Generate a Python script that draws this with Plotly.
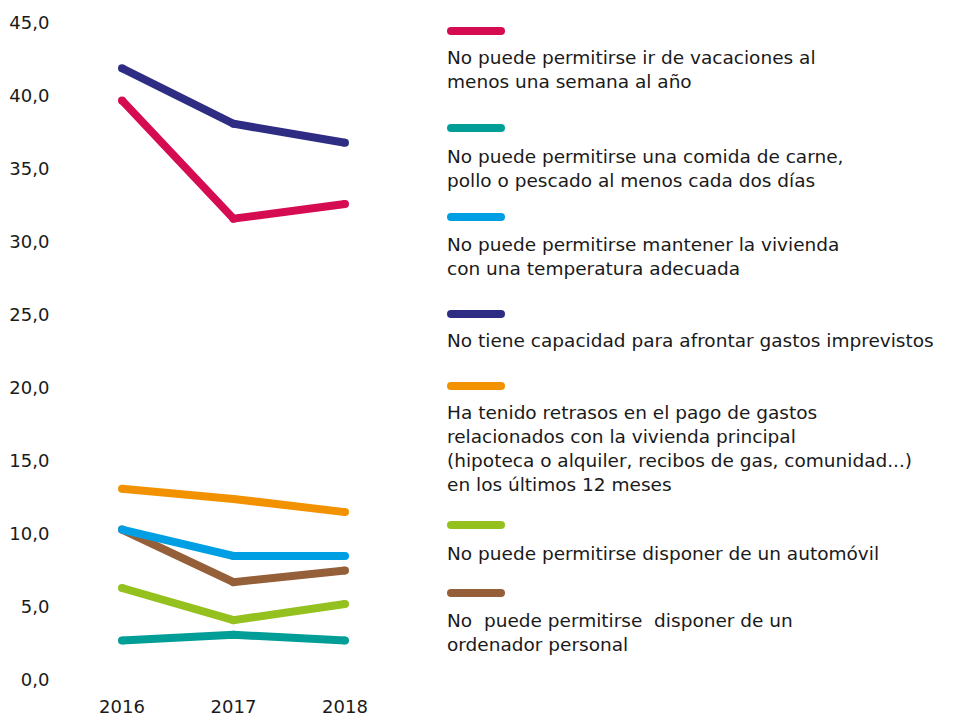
import plotly.graph_objects as go

W, H = 955, 718

years = [2016, 2017, 2018]
year_labels = ["2016", "2017", "2018"]

series_names = [
    "No puede permitirse ir de vacaciones al<br>menos una semana al año",
    "No puede permitirse una comida de carne,<br>pollo o pescado al menos cada dos días",
    "No puede permitirse mantener la vivienda<br>con una temperatura adecuada",
    "No tiene capacidad para afrontar gastos imprevistos",
    "Ha tenido retrasos en el pago de gastos<br>relacionados con la vivienda principal<br>(hipoteca o alquiler, recibos de gas, comunidad...)<br>en los últimos 12 meses",
    "No puede permitirse disponer de un automóvil",
    "No  puede permitirse  disponer de un<br>ordenador personal",
]

vacaciones = [39.7, 31.6, 32.6]
carne = [2.7, 3.1, 2.7]
temperatura = [10.3, 8.5, 8.5]
imprevistos = [41.9, 38.1, 36.8]
retrasos = [13.1, 12.4, 11.5]
automovil = [6.3, 4.1, 5.2]
ordenador = [10.3, 6.7, 7.5]

series_values = [vacaciones, carne, temperatura, imprevistos, retrasos, automovil, ordenador]
colors = ["#D50C52", "#009E96", "#009FE3", "#2E2D83", "#F39200", "#95C11F", "#955F3A"]

y_ticks = [0, 5, 10, 15, 20, 25, 30, 35, 40, 45]
y_tick_labels = ["0,0", "5,0", "10,0", "15,0", "20,0", "25,0", "30,0", "35,0", "40,0", "45,0"]

FONT = "DejaVu Sans"
TXT = "#1a1a1a"

fig = go.Figure()
draw_order = [0, 3, 1, 5, 6, 2, 4]
for i in draw_order:
    fig.add_trace(go.Scatter(
        x=years, y=series_values[i], mode="lines+markers",
        line=dict(color=colors[i], width=8),
        marker=dict(color=colors[i], size=8, line=dict(width=0)),
        showlegend=False, hoverinfo="skip",
    ))

px_left, px_right = 60, 400
py_top, py_bottom = 23, 680

def fx(px):
    return px / W

def fy(py):
    return 1 - py / H

x0 = 2016 - (122 - px_left) / 111.5
x1 = 2018 + (px_right - 345) / 111.5

fig.update_layout(
    width=W, height=H,
    margin=dict(l=0, r=0, t=0, b=0),
    paper_bgcolor="white", plot_bgcolor="white",
    font=dict(family=FONT, size=17, color=TXT),
    xaxis=dict(
        domain=[fx(px_left), fx(px_right)], range=[x0, x1],
        tickvals=years, ticktext=year_labels,
        showgrid=False, zeroline=False, showline=False,
        ticks="outside", ticklen=10, tickcolor="rgba(0,0,0,0)",
        tickfont=dict(size=18, family=FONT, color=TXT),
        automargin=False, fixedrange=True,
    ),
    yaxis=dict(
        domain=[fy(py_bottom), fy(py_top)], range=[0, 45],
        tickvals=y_ticks, ticktext=y_tick_labels,
        showgrid=False, zeroline=False, showline=False,
        ticks="outside", ticklen=6, tickcolor="rgba(0,0,0,0)",
        tickfont=dict(size=18, family=FONT, color=TXT),
        automargin=False, fixedrange=True,
    ),
)

swatch_y = [31, 128, 217, 314, 386, 525, 593]
text_y = [69.5, 168.5, 256.5, 341, 448.5, 553, 632.5]
sx0, sx1 = 451, 501
shapes = []
annotations = []
for i in range(len(series_names)):
    yy = fy(swatch_y[i])
    shapes.append(dict(type="line", xref="paper", yref="paper",
                       x0=fx(sx0), x1=fx(sx1), y0=yy, y1=yy,
                       line=dict(color=colors[i], width=8)))
    for cx in (sx0, sx1):
        shapes.append(dict(type="circle", xref="paper", yref="paper",
                           x0=fx(cx - 4), x1=fx(cx + 4),
                           y0=fy(swatch_y[i] + 4), y1=fy(swatch_y[i] - 4),
                           fillcolor=colors[i], line=dict(width=0)))
    annotations.append(dict(
        text=series_names[i], xref="paper", yref="paper",
        x=fx(445), y=fy(text_y[i]), xanchor="left", yanchor="middle",
        align="left", showarrow=False,
        font=dict(family=FONT, size=18.5, color=TXT),
    ))
fig.update_layout(shapes=shapes, annotations=annotations)

fig.write_html("out.html", config={"displayModeBar": False},
               post_script="document.body.style.margin='0';document.body.style.overflow='hidden';")
